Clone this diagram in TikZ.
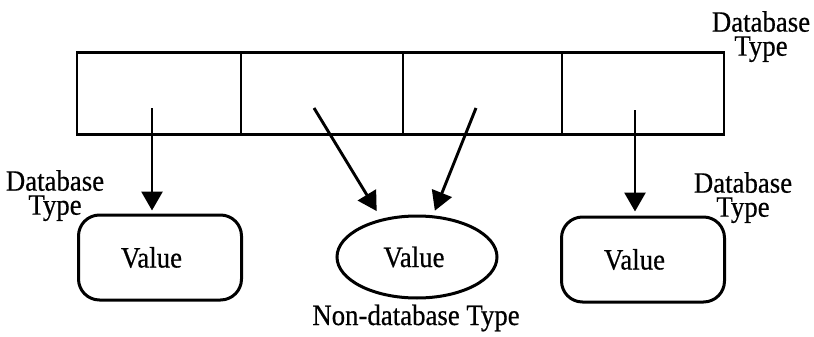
\documentclass[tikz,border=0pt]{standalone}
\usepackage{graphicx}
\usepackage{fontspec}
\setmainfont{Liberation Serif}[FakeBold=0.6]
\usetikzlibrary{arrows.meta,shapes.geometric}
% slightly tall lettering
\newcommand\tallword[1]{\scalebox{1}[1.1]{#1}}

\begin{document}
\begin{tikzpicture}[x=1pt,y=-1pt,
  every node/.style={font=\fontsize{26.8}{24}\selectfont},
  cell/.style={draw,line width=2.9pt,minimum height=82pt,inner sep=0pt},
  valbox/.style={draw,line width=3pt,rounded corners=21pt,
    minimum width=163pt,minimum height=85pt,inner sep=0pt},
  valoval/.style={draw,ellipse,line width=3pt,
    minimum width=160pt,minimum height=82pt,inner sep=0pt},
  lbl/.style={align=center,inner sep=0pt,anchor=north},
  ref/.style={line width=2.9pt,-{Triangle[length=19pt,width=21pt]}}]
  \useasboundingbox (0,0) rectangle (814,337);

  % the four-slot record
  \node[cell,minimum width=164pt] (c1) at (159,93.5) {};
  \node[cell,minimum width=162pt] (c2) at (322,93.5) {};
  \node[cell,minimum width=159pt] (c3) at (482.5,93.5) {};
  \node[cell,minimum width=162pt] (c4) at (643,93.5) {};

  % where each reference leaves its slot
  \coordinate (s1) at (152,108);
  \coordinate (s2) at (314,108);
  \coordinate (s3) at (476,108);
  \coordinate (s4) at (635,110);

  % values (text nudged left inside the rounded boxes)
  \node[valbox] (v1) at (160,257.5) {\hspace*{-17pt}\tallword{Value}};
  \node[valoval] (v2) at (417,257) {\hspace*{-6pt}\tallword{Value}};
  \node[valbox] (v3) at (643,259.5) {\hspace*{-17pt}\tallword{Value}};

  % type labels
  \node[lbl] (t0) at (761,11) {\tallword{Database}\\\tallword{Type}};
  \node[lbl] (t1) at (55,170) {\tallword{Database}\\\tallword{Type}};
  \node[lbl] (t3) at (743,172) {\tallword{Database}\\\tallword{Type}};
  \node[inner sep=0pt,anchor=base] (t2) at (416,325) {\tallword{Non-database Type}};

  % references
  \draw[ref,shorten >=3pt] (s1) -- (s1 |- v1.north);
  \draw[ref,shorten >=9pt] (s2) -- (v2.133);
  \draw[ref,shorten >=5pt] (s3) -- (v2.69);
  \draw[ref,shorten >=4pt] (s4) -- (s4 |- v3.north);
\end{tikzpicture}
\end{document}
